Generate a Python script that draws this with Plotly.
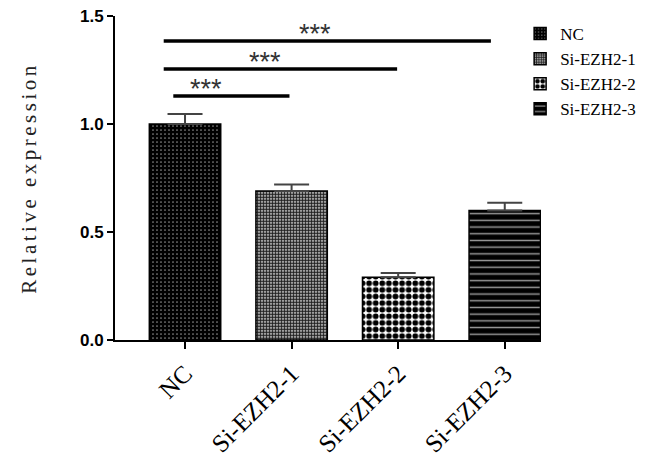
import plotly.graph_objects as go

categories = ["NC", "Si-EZH2-1", "Si-EZH2-2", "Si-EZH2-3"]
values = [1.0, 0.69, 0.29, 0.60]
errors = [0.046, 0.03, 0.02, 0.035]
y_ticks = [0.0, 0.5, 1.0, 1.5]
tick_text = ["0.0", "0.5", "1.0", "1.5"]

# significance brackets
sig_x0 = [-0.2, -0.2, -0.11]
sig_x1 = [2.87, 1.99, 0.98]
sig_y = [1.384, 1.255, 1.13]
sig_label_x = [1.22, 0.75, 0.2]
sig_label_y = [1.418, 1.288, 1.163]
sig_labels = ["***", "***", "***"]

patterns = [
    dict(shape=".", bgcolor="black", fgcolor="#8a8a8a", size=4, solidity=0.15, fillmode="replace"),
    dict(shape=".", bgcolor="#f0f0f0", fgcolor="#222222", size=3, solidity=0.7, fillmode="replace"),
    dict(shape=".", bgcolor="white", fgcolor="black", size=6.6, solidity=0.6, fillmode="replace"),
    dict(shape="-", bgcolor="black", fgcolor="#9a9a9a", size=6.7, solidity=0.22, fillmode="replace"),
]

fig = go.Figure()
for i, c in enumerate(categories):
    fig.add_trace(go.Bar(
        x=[c], y=[values[i]], name=c, legendgroup=c,
        width=0.67,
        marker=dict(color="black", pattern=patterns[i], line=dict(color="black", width=1.5)),
        error_y=dict(type="data", symmetric=False, array=[errors[i]], arrayminus=[0],
                     color="#444444", thickness=2, width=17.5),
    ))

for i in range(len(sig_y)):
    fig.add_shape(type="line", xref="x", yref="y", x0=sig_x0[i], x1=sig_x1[i],
                  y0=sig_y[i], y1=sig_y[i], line=dict(color="black", width=3.5))
    fig.add_annotation(x=sig_label_x[i], y=sig_label_y[i], text=sig_labels[i], showarrow=False,
                       xref="x", yref="y",
                       font=dict(family="Liberation Sans", size=27, color="#333333"))

fig.update_layout(
    width=660, height=459,
    margin=dict(l=107, r=127, t=8, b=127),
    plot_bgcolor="white", paper_bgcolor="white",
    barmode="overlay",
    showlegend=True,
    legend=dict(x=0.951, y=1.0, xanchor="left", yanchor="top",
                font=dict(family="Liberation Serif", size=17, color="black"),
                tracegroupgap=0, bgcolor="rgba(0,0,0,0)"),
    xaxis=dict(range=[-0.657, 3.34], showline=True, linecolor="black", linewidth=2,
               automargin=False,
               ticks="outside", ticklen=7, tickwidth=2, tickcolor="black",
               tickangle=-45, tickfont=dict(family="Liberation Serif", size=25, color="black"),
               showgrid=False, zeroline=False),
    yaxis=dict(range=[0, 1.5], tickvals=y_ticks, ticktext=tick_text,
               automargin=False,
               showline=True, linecolor="black", linewidth=2,
               ticks="outside", ticklen=6, tickwidth=2, tickcolor="black",
               ticklabeloverflow="allow",
               tickfont=dict(family="Liberation Sans", size=17, color="black", weight="bold"),
               title=dict(text='<span style="letter-spacing:3.5px">Relative expression</span>',
                          standoff=38,
                          font=dict(family="Liberation Serif", size=21, color="#222222")),
               showgrid=False, zeroline=False),
)

fig.write_html("out.html")
